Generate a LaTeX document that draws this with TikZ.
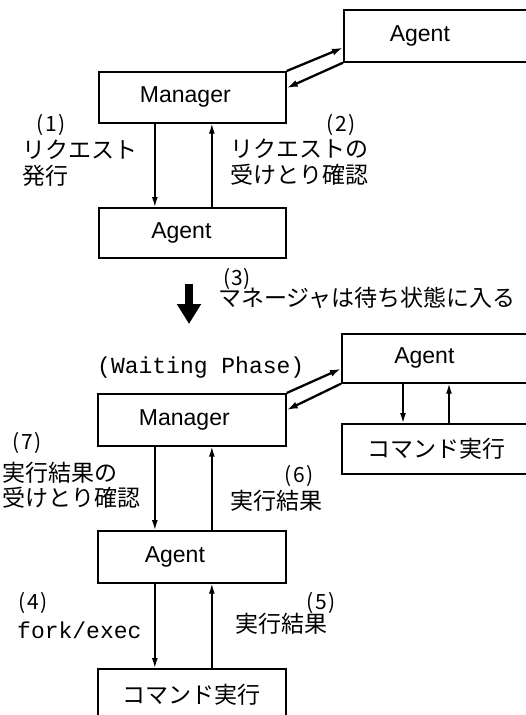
\documentclass[tikz,border=0pt]{standalone}
\usepackage{fontspec}
\setmainfont{Liberation Sans}
\setmonofont{Liberation Mono}
\newfontfamily\cjk{Noto Sans CJK JP}
\usetikzlibrary{arrows.meta,calc}
\begin{document}
\begin{tikzpicture}[x=1pt,y=-1pt,
  box/.style={draw, line width=1.7pt, inner sep=0pt, anchor=north west,
    font=\fontsize{23}{26}\selectfont},
  arr/.style={line width=1.4pt, -{Latex[length=10pt,width=6pt]}},
  dbl/.style={line width=2.3pt, -{Latex[length=11pt,width=7pt]}},
  lab/.style={font=\cjk\fontsize{23}{26}\selectfont, inner sep=0pt, anchor=west},
  num/.style={font=\cjk\fontsize{21}{26}\selectfont, inner sep=0pt},
  tt/.style={font=\ttfamily\fontsize{23}{26}\selectfont, inner sep=0pt, anchor=west}]
\useasboundingbox (0,0) rectangle (526,715);
\clip (0,0) rectangle (526,715);

% ---------- upper part ----------
\node[box, minimum width=187pt, minimum height=52pt] (a1) at (343,9) {\hspace*{-35pt}Agent};
\node[box, minimum width=187pt, minimum height=51pt] (m1) at (98,71) {\hspace*{-14pt}Manager};
\node[box, minimum width=187pt, minimum height=50pt] (g1) at (98,207) {\hspace*{-22pt}Agent};

\draw[dbl] (m1.north east) -- ([yshift=15pt]a1.south west);
\draw[dbl] (a1.south west) -- ([yshift=-17pt]m1.north east);
\draw[arr] ([xshift=-37.5pt]m1.south) -- ([xshift=-37.5pt]g1.north);
\draw[arr] ([xshift=19.5pt]g1.north) -- ([xshift=19.5pt]m1.south);

\node[num] (n1) at (51,125) {(\kern2pt1\kern2pt)};
\node[lab] (t1a) at (22,150) {リクエスト};
\node[lab] (t1b) at (22,176) {発行};
\node[num] (n2) at (341,125) {(\kern2pt2\kern2pt)};
\node[lab] (t2a) at (230,149) {リクエストの};
\node[lab] (t2b) at (230,175) {受けとり確認};

% ---------- transition ----------
\coordinate (bt) at (189,284);
\coordinate (bh) at (189,324);
\draw[line width=8pt, -{Triangle[length=20pt,width=23pt]}] (bt) -- (bh);
\node[num] (n3) at (237,279) {(\kern1pt3\kern1pt)};
\node[lab] (t3) at (218,298) {マネージャは待ち状態に入る};

% ---------- lower part ----------
\node[tt] (wp) at (97,368) {(Waiting Phase)};
\node[box, minimum width=189pt, minimum height=49pt] (a2) at (341,333) {\hspace*{-24pt}Agent};
\node[box, minimum width=189pt, minimum height=50pt] (c2) at (341,423) {\cjk コマンド実行};
\node[box, minimum width=188pt, minimum height=52pt] (m2) at (97,393) {\hspace*{-15pt}Manager};
\node[box, minimum width=188pt, minimum height=52pt] (g3) at (97,530) {\hspace*{-34pt}Agent};
\node[box, minimum width=188pt, minimum height=52pt] (c3) at (97,668) {\cjk コマンド実行};

\draw[dbl] (m2.north east) -- ([yshift=15pt]a2.south west);
\draw[dbl] (a2.south west) -- ([yshift=-17pt]m2.north east);
\draw[arr] ([xshift=62pt]a2.south west) -- ([xshift=62pt]c2.north west);
\draw[arr] ([xshift=108pt]c2.north west) -- ([xshift=108pt]a2.south west);

\draw[arr] ([xshift=-37pt]m2.south) -- ([xshift=-37pt]g3.north);
\draw[arr] ([xshift=20pt]g3.north) -- ([xshift=20pt]m2.south);
\draw[arr] ([xshift=-37pt]g3.south) -- ([xshift=-37pt]c3.north);
\draw[arr] ([xshift=20pt]c3.north) -- ([xshift=20pt]g3.south);

\node[num] (n7) at (27,443) {(\kern2pt7\kern2pt)};
\node[lab] (t7a) at (2,473) {実行結果の};
\node[lab] (t7b) at (2,498) {受けとり確認};
\node[num] (n6) at (299,476) {(\kern2pt6\kern2pt)};
\node[lab] (t6) at (230,501) {実行結果};
\node[num] (n4) at (33,603) {(\kern2pt4\kern2pt)};
\node[tt] (t4) at (17,630) {fork/exec};
\node[num] (n5) at (321,603) {(\kern2pt5\kern2pt)};
\node[lab] (t5) at (235,624) {実行結果};
\end{tikzpicture}
\end{document}
